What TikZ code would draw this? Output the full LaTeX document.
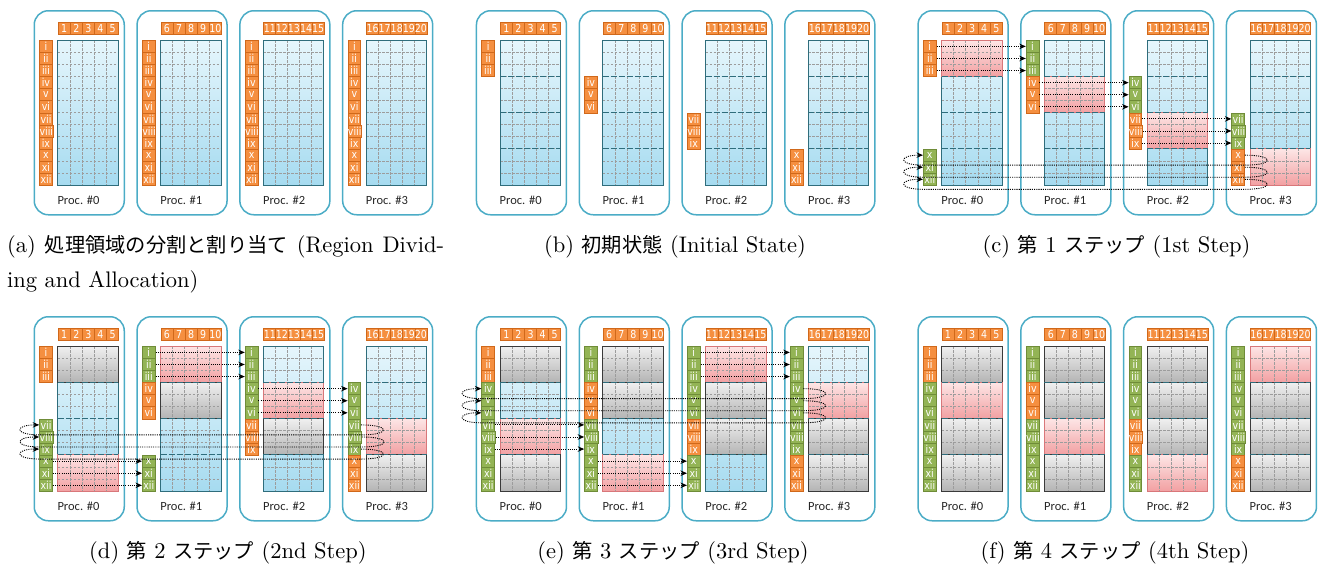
\documentclass[tikz,border=0pt]{standalone}
\usepackage{fontspec}
\usepackage{graphicx}
\newfontfamily\cjk{Noto Sans CJK JP}
\newfontfamily\cellfont{DejaVu Sans}[FakeStretch=0.86]
\newfontfamily\procfont{Carlito}
\usetikzlibrary{arrows.meta,calc}
\definecolor{procline}{HTML}{4BACC6}
\definecolor{orfill}{HTML}{F58F40}
\definecolor{ordraw}{HTML}{D0681A}
\definecolor{grfill}{HTML}{93B455}
\definecolor{grdraw}{HTML}{6F8C38}
\definecolor{blueT}{HTML}{E6F6FC}
\definecolor{blueB}{HTML}{A6DBF0}
\definecolor{pinkT}{HTML}{FDE6E6}
\definecolor{pinkB}{HTML}{F2A0A2}
\definecolor{pinkdraw}{HTML}{D8777A}
\definecolor{greyT}{HTML}{F0F0F0}
\definecolor{greyB}{HTML}{B4B4B4}
\definecolor{greydraw}{HTML}{3A3A3A}
\definecolor{gridgray}{HTML}{9C9C9C}
\definecolor{tealdraw}{HTML}{2F6D7C}
\newcommand\jp[1]{{\cjk\fontsize{9}{10}\selectfont #1}}
\newcommand\capt[1]{\scalebox{2.25}{#1}}
\tikzset{
  procbox/.style={draw=procline, line width=1.5pt, rounded corners=14pt, minimum width=90pt, minimum height=204pt, anchor=north west, inner sep=0pt},
  proclabel/.style={font=\procfont\fontsize{12.5}{13}\selectfont, text=black!85, inner sep=0pt},
  lab/.style={line width=0.7pt, minimum width=12.8pt, minimum height=12.08pt, inner sep=0pt, font=\cellfont\fontsize{11}{11}\selectfont, text=white, anchor=north west},
  own/.style={lab, fill=orfill, draw=ordraw},
  recv/.style={lab, fill=grfill, draw=grdraw},
  head/.style={own, minimum width=12.08pt, minimum height=12pt},
  fine/.style={draw=gridgray, line width=0.6pt, dash pattern=on 2.5pt off 1.5pt},
  sep/.style={draw=tealdraw, line width=1pt, dash pattern=on 6pt off 2pt},
  arr/.style={draw=black, line width=0.9pt, dash pattern=on 1.1pt off 1.1pt, -{Stealth[length=6.5pt,width=5.5pt]}},
  captext/.style={inner sep=0pt, anchor=base},
}
\newcommand\drawproc[5]{%
  \pgfmathsetmacro\Lx{#3}%
  \pgfmathsetmacro\Yo{#4}%
  \pgfmathsetmacro\gxa{\Lx+24.3}%
  \pgfmathsetmacro\gxb{\Lx+84.7}%
  \pgfmathsetmacro\gya{\Yo+40}%
  \pgfmathsetmacro\gyb{\Yo+185}%
  \node[procbox] (#1box#5) at (\Lx,\Yo+10) {};
  \node[proclabel] (#1proc#5) at (\Lx+45,\Yo+200.5) {Proc. \##5};
  \fill[top color=blueT, bottom color=blueB] (\gxa,\gya) rectangle (\gxb,\gyb);
  \foreach \k in {0,...,3}{%
    \pgfmathtruncatemacro\dd{mod(#5-\k+8,4)}%
    \pgfmathtruncatemacro\bc{(#2>=1) ? ((\dd<=#2-2) ? 2 : ((\dd==#2-1) ? 1 : 0)) : 0}%
    \pgfmathsetmacro\bya{\gya+36.25*\k}%
    \pgfmathsetmacro\byb{\bya+36.25}%
    \ifcase\bc\or
      \fill[top color=pinkT, bottom color=pinkB] (\gxa,\bya) rectangle (\gxb,\byb);
    \or
      \fill[top color=greyT, bottom color=greyB] (\gxa,\bya) rectangle (\gxb,\byb);
    \fi
  }
  \foreach \j in {1,...,4} \draw[fine] (\gxa+12.08*\j,\gya) -- (\gxa+12.08*\j,\gyb);
  \foreach \i in {1,...,11} \draw[fine] (\gxa,\gya+12.0833*\i) -- (\gxb,\gya+12.0833*\i);
  \draw[tealdraw, line width=1pt] (\gxa,\gya) rectangle (\gxb,\gyb);
  \foreach \k in {0,...,3}{%
    \pgfmathtruncatemacro\dd{mod(#5-\k+8,4)}%
    \pgfmathtruncatemacro\bc{(#2>=1) ? ((\dd<=#2-2) ? 2 : ((\dd==#2-1) ? 1 : 0)) : 0}%
    \pgfmathsetmacro\bya{\gya+36.25*\k}%
    \pgfmathsetmacro\byb{\bya+36.25}%
    \ifcase\bc\or
      \draw[pinkdraw, line width=1pt] (\gxa,\bya) rectangle (\gxb,\byb);
    \or
      \draw[greydraw, line width=1pt] (\gxa,\bya) rectangle (\gxb,\byb);
    \fi
  }
  \ifnum#2>-1
    \foreach \i in {1,2,3} \draw[sep] (\gxa,\gya+36.25*\i) -- (\gxb,\gya+36.25*\i);
  \fi
  \foreach \j in {0,...,4}{%
    \pgfmathtruncatemacro\hn{5*#5+\j+1}%
    \node[head] (#1-h#5-\j) at (\gxa+12.08*\j,\Yo+22.3) {\hn};
  }
  \foreach \k in {0,...,3}{%
    \pgfmathtruncatemacro\dd{mod(#5-\k+8,4)}%
    \pgfmathtruncatemacro\lc{(#2<0) ? 1 : ((\dd==0) ? 1 : (((#2>=1) && (\dd<=#2)) ? 2 : 0))}%
    \foreach \j in {0,1,2}{%
      \pgfmathtruncatemacro\r{3*\k+\j}%
      \pgfmathsetmacro\ly{\gya+12.0833*\r}%
      \ifcase\lc\or
        \node[own] (#1-#5-\r) at (\Lx+5.7,\ly) {\romannumeral\numexpr\r+1\relax};
      \or
        \node[recv] (#1-#5-\r) at (\Lx+5.7,\ly) {\romannumeral\numexpr\r+1\relax};
      \fi
    }
  }
}
\newcommand\drawarrows[2]{%
  \foreach \p in {0,...,3}{%
    \pgfmathtruncatemacro\b{mod(\p-#2+1+8,4)}%
    \pgfmathtruncatemacro\q{mod(\p+1,4)}%
    \foreach \j in {0,1,2}{%
      \pgfmathtruncatemacro\r{3*\b+\j}%
      \ifnum\p<3
        \draw[arr] (#1-\p-\r.east) -- (#1-\q-\r.west);
      \else
        \draw[arr] (#1-3-\r.east) .. controls ($(#1-3-\r.east)+(30,0)$) and ($(#1-3-\r.east)+(30,10)$) .. ($(#1-3-\r.east)+(0,10)$) -- ($(#1-0-\r.west)+(0,10)$) .. controls ($(#1-0-\r.west)+(-25,10)$) and ($(#1-0-\r.west)+(-25,0)$) .. (#1-0-\r.west);
      \fi
    }
  }
}
\begin{document}
\begin{tikzpicture}[x=1pt,y=-1pt]
\useasboundingbox (0,0) rectangle (1322,566);
\foreach \pnm/\pmd/\plo/\pyz in {a/-1/33.5/0, b/0/475.7/0, c/1/917.3/0, d/2/33.5/306, e/3/475.7/306, f/4/917.3/306}{
  \foreach \p in {0,...,3}{
    \pgfmathsetmacro\LL{\plo+102.8*\p}
    \drawproc{\pnm}{\pmd}{\LL}{\pyz}{\p}
  }
}
\drawarrows{c}{1}
\drawarrows{d}{2}
\drawarrows{e}{3}
\node[anchor=base west, inner sep=0pt] (capa) at (7,252.5) {\capt{\makebox[194.2pt][s]{(a) \jp{処理領域の分割と割り当て} (Region Divid-}}};
\node[anchor=base west, inner sep=0pt] (capa2) at (7,287) {\capt{ing and Allocation)}};
\node[captext] (capb) at (675,252.5) {\capt{(b) \jp{初期状態} (Initial State)}};
\node[captext] (capc) at (1116.5,252.5) {\capt{(c) \jp{第} 1 \jp{ステップ} (1st Step)}};
\node[captext] (capd) at (228,558.5) {\capt{(d) \jp{第} 2 \jp{ステップ} (2nd Step)}};
\node[captext] (cape) at (673,558.5) {\capt{(e) \jp{第} 3 \jp{ステップ} (3rd Step)}};
\node[captext] (capf) at (1115,558.5) {\capt{(f) \jp{第} 4 \jp{ステップ} (4th Step)}};
\end{tikzpicture}
\end{document}
